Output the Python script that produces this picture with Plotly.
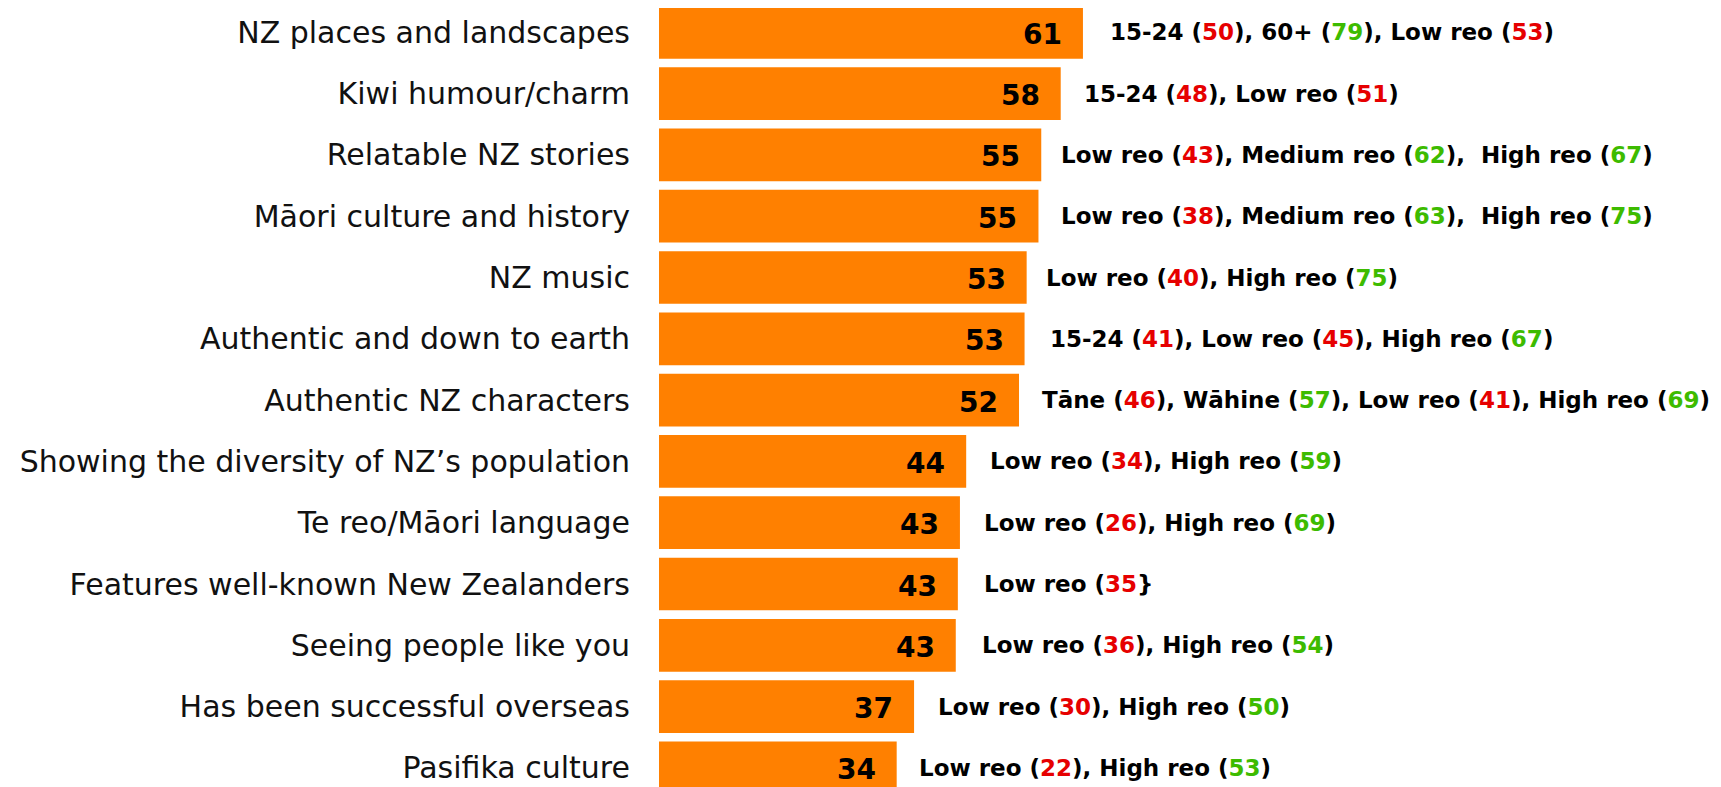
import plotly.graph_objects as go

# ---------------- data ----------------
categories = [
    "NZ places and landscapes",
    "Kiwi humour/charm",
    "Relatable NZ stories",
    "Māori culture and history",
    "NZ music",
    "Authentic and down to earth",
    "Authentic NZ characters",
    "Showing the diversity of NZ’s population",
    "Te reo/Māori language",
    "Features well-known New Zealanders",
    "Seeing people like you",
    "Has been successful overseas",
    "Pasifika culture",
]
values = [61.0, 57.8, 55.0, 54.6, 52.9, 52.6, 51.8, 44.2, 43.3, 43.0, 42.7, 36.7, 34.2]

# subgroup call-outs: (group label, score)
notes = [
    [("15-24", 50), ("60+", 79), ("Low reo", 53)],
    [("15-24", 48), ("Low reo", 51)],
    [("Low reo", 43), ("Medium reo", 62), (" High reo", 67)],
    [("Low reo", 38), ("Medium reo", 63), (" High reo", 75)],
    [("Low reo", 40), ("High reo", 75)],
    [("15-24", 41), ("Low reo", 45), ("High reo", 67)],
    [("Tāne", 46), ("Wāhine", 57), ("Low reo", 41), ("High reo", 69)],
    [("Low reo", 34), ("High reo", 59)],
    [("Low reo", 26), ("High reo", 69)],
    [("Low reo", 35)],
    [("Low reo", 36), ("High reo", 54)],
    [("Low reo", 30), ("High reo", 50)],
    [("Low reo", 22), ("High reo", 53)],
]
closers = {9: "}"}  # as typed in the original

# ---------------- style ----------------
ORANGE = "#FF8000"
RED = "#E60000"
GREEN = "#3DBB00"
FONT = "DejaVu Sans"
note_gap_px = [25, 21, 18, 21, 17, 23, 21, 22, 22, 24, 24, 22, 20]


def note_text(i):
    parts = []
    for label, val in notes[i]:
        col = RED if val < values[i] else GREEN
        lab = label.replace(" ", "&nbsp;", 1) if label.startswith(" ") else label
        close = closers.get(i, ")")
        parts.append(f"{lab} (<span style='color:{col}'>{val}</span>{close}")
    return ", ".join(parts)


fig = go.Figure(
    go.Bar(
        x=values,
        y=categories,
        orientation="h",
        marker=dict(color=ORANGE, line=dict(width=0)),
        hoverinfo="skip",
    )
)

annotations = []
for i, (cat, v) in enumerate(zip(categories, values)):
    annotations.append(dict(
        x=v, y=cat, xref="x", yref="y", text=str(int(v + 0.5)),
        showarrow=False, xanchor="right", yanchor="middle",
        xshift=-19, yshift=-2,
        font=dict(family=FONT, size=28, color="black", weight="bold"),
    ))
    annotations.append(dict(
        x=v, y=cat, xref="x", yref="y", text=note_text(i),
        showarrow=False, xanchor="left", yanchor="middle",
        xshift=note_gap_px[i], yshift=0,
        font=dict(family=FONT, size=23, color="black", weight="bold"),
    ))

# the page body adds an 8px offset; compensate so marks land where intended
OFFSET = 8
W, H = 1721, 787
LEFT = 659 - OFFSET
PX_PER_UNIT = 6.95
PITCH = 61.3
FIRST_CENTER = 32.3 - OFFSET

fig.update_layout(
    width=W, height=H,
    margin=dict(l=LEFT, r=0, t=0, b=0, autoexpand=False),
    paper_bgcolor="white", plot_bgcolor="white",
    bargap=0.14,
    showlegend=False,
    annotations=annotations,
    xaxis=dict(visible=False, range=[0, (W - LEFT) / PX_PER_UNIT], fixedrange=True),
    yaxis=dict(
        type="category",
        categoryorder="array", categoryarray=categories,
        range=[(H - FIRST_CENTER) / PITCH, -FIRST_CENTER / PITCH],
        showgrid=False, showline=False, zeroline=False, ticks="",
        ticklabelstandoff=28,
        tickfont=dict(family=FONT, size=30, color="#111111"),
        automargin=False, fixedrange=True,
    ),
)

fig.write_html("out.html")
